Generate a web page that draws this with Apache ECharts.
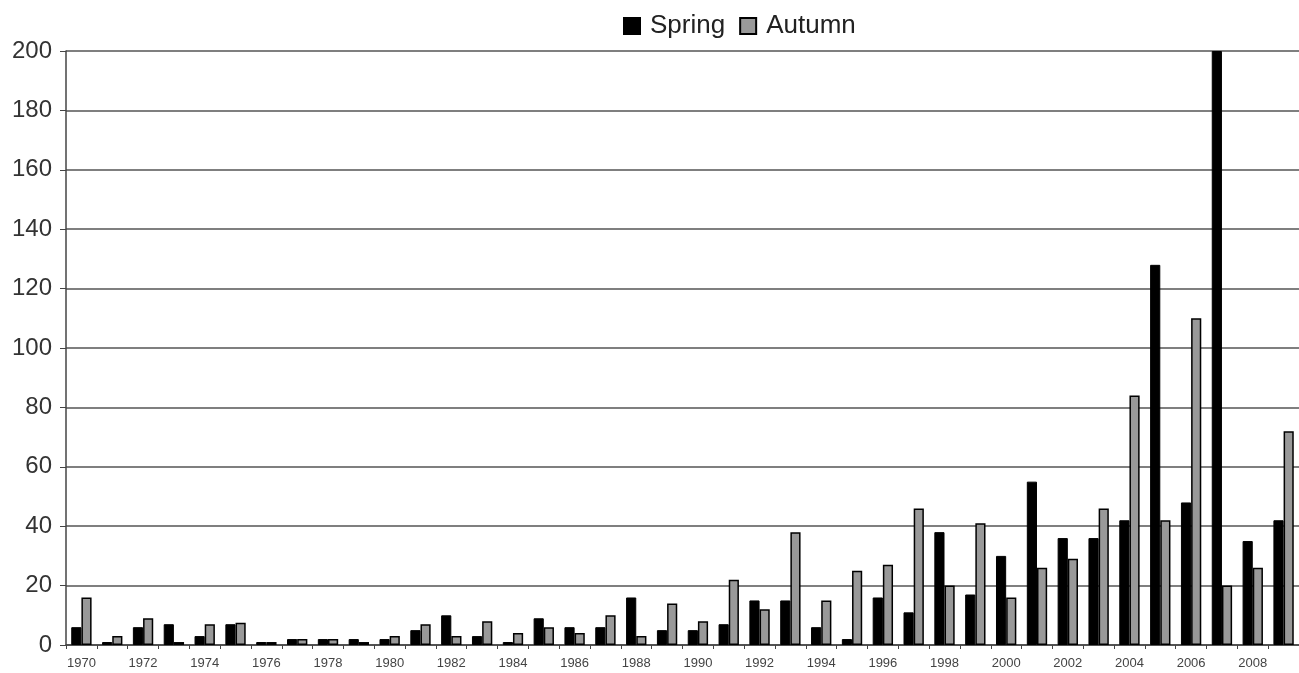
<!DOCTYPE html>
<html>
<head>
<meta charset="utf-8">
<script src="https://cdn.jsdelivr.net/npm/echarts@6/dist/echarts.min.js"></script>
<style>
html,body{margin:0;padding:0;background:#fff;}
#chart{width:1299px;height:673px;}
</style>
</head>
<body>
<div id="chart"></div>
<script>
const years = [];
for (let y = 1970; y <= 2009; y++) years.push(String(y));

const spring = [6,1,6,7,3,7,1,2,2,2, 2,5,10,3,1,9,6,6,16,5, 5,7,15,15,6,2,16,11,38,17, 30,55,36,36,42,128,48,200,35,42];
const autumn = [16,3,9,1,7,7.5,1,2,2,1, 3,7,3,8,4,6,4,10,3,14, 8,22,12,38,15,25,27,46,20,41, 16,26,29,46,84,42,110,20,26,72];

const yTicks = { min: 0, max: 200, interval: 20 };

const chart = echarts.init(document.getElementById('chart'));
chart.setOption({
  animation: false,
  backgroundColor: '#fff',
  textStyle: { fontFamily: 'Liberation Sans, Arial, sans-serif' },
  legend: {
    top: 8,
    left: 618,
    icon: 'rect',
    itemWidth: 16,
    itemHeight: 16,
    itemGap: 14,
    textStyle: { fontSize: 26, color: '#222', padding: [0,0,0,5] },
    data: ['Spring', 'Autumn']
  },
  grid: { left: 66, right: 0, top: 51, bottom: 28, containLabel: false },
  xAxis: {
    type: 'category',
    data: years,
    boundaryGap: true,
    axisLine: { lineStyle: { color: '#444', width: 1.5 } },
    axisTick: { show: true, interval: 0, length: 4, lineStyle: { color: '#444' } },
    axisLabel: { interval: 1, fontSize: 13, color: '#444', margin: 12 }
  },
  yAxis: {
    type: 'value',
    min: yTicks.min, max: yTicks.max, interval: yTicks.interval,
    axisLine: { show: true, lineStyle: { color: '#444', width: 1.5 } },
    axisTick: { show: true, length: 6, lineStyle: { color: '#444' } },
    axisLabel: { fontSize: 24, color: '#333', margin: 14 },
    splitLine: { lineStyle: { color: '#555', width: 1.5 } }
  },
  series: [
    {
      name: 'Spring', type: 'bar', data: spring,
      barGap: '0%', barCategoryGap: '34%',
      itemStyle: { color: '#000', borderColor: '#000', borderWidth: 1 }
    },
    {
      name: 'Autumn', type: 'bar', data: autumn,
      barGap: '0%', barCategoryGap: '34%',
      itemStyle: { color: '#999', borderColor: '#000', borderWidth: 1.5 }
    }
  ]
});
</script>
</body>
</html>
